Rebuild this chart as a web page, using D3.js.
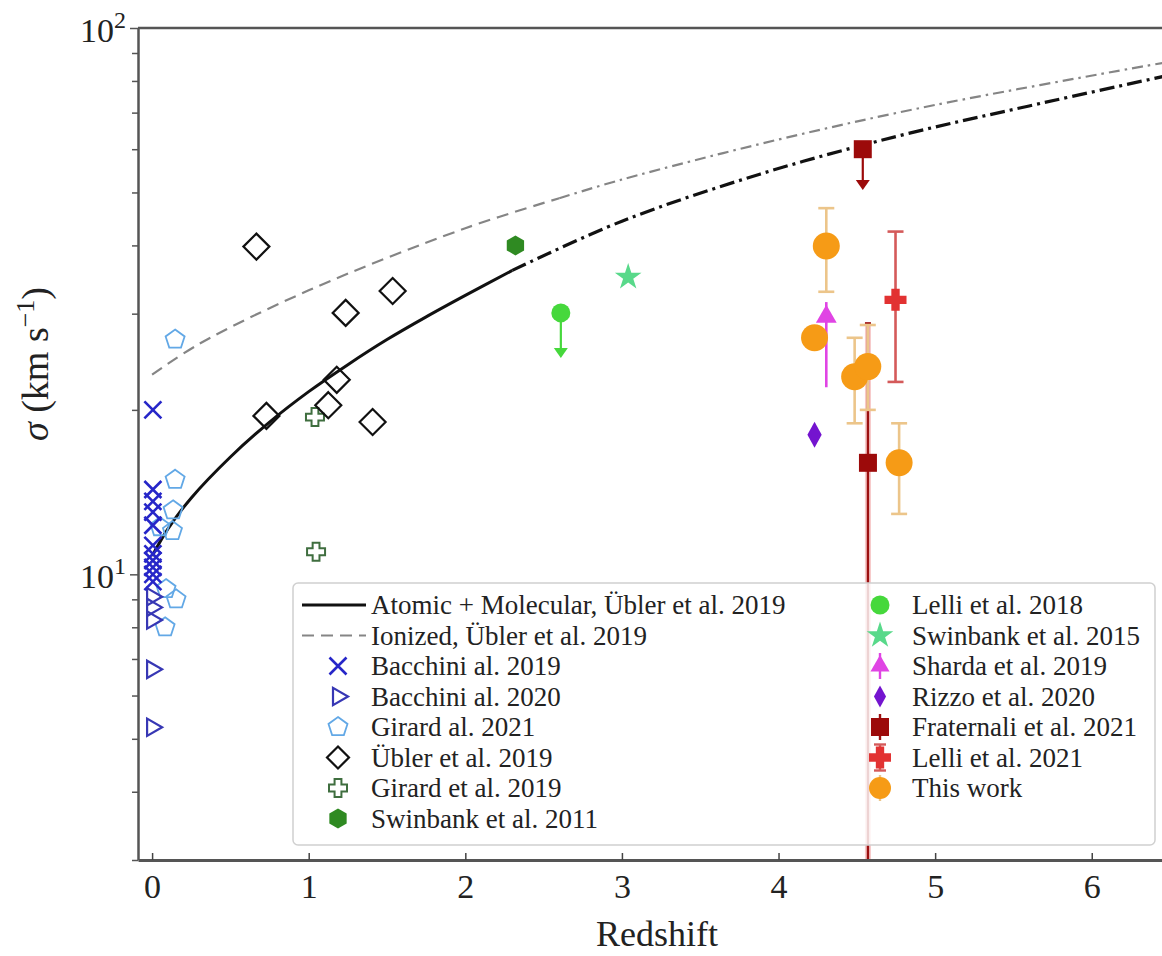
<!DOCTYPE html>
<html>
<head>
<meta charset="utf-8">
<script src="https://cdnjs.cloudflare.com/ajax/libs/d3/7.8.5/d3.min.js"></script>
<style>
  body { margin: 0; background: #fff; }
  text { font-family: "Liberation Serif", "DejaVu Serif", serif; fill: #222; }
</style>
</head>
<body>
<div id="chart"></div>
<script>
// ---- data ----
// Übler et al. 2019 relations
var molZ = [0, 0.1, 0.25, 0.5, 0.75, 1.0, 1.25, 1.5, 1.75, 2.0, 2.3];
var molSigma = [10.8, 12.1, 13.8, 16.4, 19.0, 21.6, 24.2, 26.9, 29.6, 32.4, 36.0];
var molExtZ = [2.3, 3.0, 3.88, 4.77, 5.6, 6.54];
var molExtSigma = [36.0, 44.3, 54.0, 63.5, 72.0, 82.5];
var ionZ = [0, 0.3, 1, 2, 2.6];
var ionSigma = [23.2, 26.4, 33.1, 43.0, 48.8];
var ionExtZ = [2.6, 3, 4, 5, 6.54];
var ionExtSigma = [48.8, 52.8, 62.5, 72.3, 87.2];

var bacchini19Z = [0.005, 0.005, 0.005, 0.005, 0.005, 0.005, 0.005, 0.005, 0.005, 0.005, 0.005];
var bacchini19S = [20.0, 14.3, 13.6, 13.0, 12.3, 11.3, 10.9, 10.6, 10.3, 10.0, 9.7];
var bacchini20Z = [0.0, 0.0, 0.0, 0.0, 0.0];
var bacchini20S = [9.1, 8.7, 8.25, 6.7, 5.25];
var girard21Z = [0.147, 0.147, 0.134, 0.13, 0.05, 0.089, 0.153, 0.083];
var girard21S = [26.9, 14.9, 13.1, 12.0, 12.2, 9.4, 9.0, 8.0];
var ubler19Z = [0.666, 0.73, 1.125, 1.179, 1.236, 1.408, 1.536];
var ubler19S = [39.8, 19.5, 20.4, 22.7, 30.1, 19.0, 33.0];
var girard19Z = [1.047, 1.04];
var girard19S = [11.0, 19.4];
var swinbank11Z = [2.32];
var swinbank11S = [40.0];
var lelli18Z = [2.61];
var lelli18S = [30.1];
var lelli18Limit = [24.9];
var swinbank15Z = [3.04];
var swinbank15S = [35.0];
var sharda19Z = [4.305];
var sharda19S = [29.6];
var sharda19Lo = [22.0];
var sharda19Hi = [31.5];
var rizzo20Z = [4.23];
var rizzo20S = [18.0];
var fraternaliZ = [4.538, 4.571];
var fraternaliS = [60.0, 16.0];
var fraternaliLo = [null, 1.0];
var fraternaliHi = [null, 28.8];
var fraternaliLimit = [50.5, null];
var lelli21Z = [4.747];
var lelli21S = [31.8];
var lelli21Lo = [22.5];
var lelli21Hi = [42.4];
var thisWorkZ = [4.305, 4.23, 4.486, 4.57, 4.77];
var thisWorkS = [39.9, 27.1, 23.0, 24.0, 16.0];
var thisWorkLo = [32.9, 27.1, 18.9, 20.0, 12.9];
var thisWorkHi = [46.8, 27.1, 27.1, 28.6, 18.9];

var xTicks = [0, 1, 2, 3, 4, 5, 6];
var yMajor = [10, 100];
var yMinor = [3, 4, 5, 6, 7, 8, 9, 20, 30, 40, 50, 60, 70, 80, 90];

// ---- layout ----
var svgWidth = 1162, svgHeight = 956;
var margin = {top: 28, left: 138};
var width = 1038;   // axes run a little past the picture edge
var height = 832;

var svg = d3.select("#chart").append("svg")
  .attr("width", svgWidth).attr("height", svgHeight);

var x = d3.scaleLinear().domain([-0.09, 6.538]).range([0, width]);
var y = d3.scaleLog().domain([3, 100]).range([height, 0]);

var chart = svg.append("g").attr("transform", `translate(${margin.left}, ${margin.top})`);

chart.append("clipPath").attr("id", "plotclip")
  .append("rect").attr("width", width).attr("height", height);

var plot = chart.append("g").attr("clip-path", "url(#plotclip)");

// ---- marker shapes ----
function poly(n, r, rot) {
  var pts = d3.range(n).map(function(i) {
    var a = rot + i * 2 * Math.PI / n;
    return [r * Math.sin(a), -r * Math.cos(a)];
  });
  return "M" + pts.join("L") + "Z";
}
function shapePath(shape, r) {
  switch (shape) {
    case "x": return `M${-r},${-r}L${r},${r}M${-r},${r}L${r},${-r}`;
    case "triR": return poly(3, r, Math.PI / 2);
    case "triU": return poly(3, r, 0);
    case "pent": return poly(5, r, 0);
    case "hex": return poly(6, r, 0);
    case "diamond": return poly(4, r, 0);
    case "square": return `M${-r},${-r}H${r}V${r}H${-r}Z`;
    case "thinDiamond": return `M0,${-r}L${r * 0.55},0L0,${r}L${-r * 0.55},0Z`;
    case "circle": return d3.symbol(d3.symbolCircle, Math.PI * r * r)();
    case "star": return d3.symbol(d3.symbolStar, r * r * 2.2)();
    case "plusO":
    case "plusF":
      var t = r * 0.38;
      return `M${-t},${-r}H${t}V${-t}H${r}V${t}H${t}V${r}H${-t}V${t}H${-r}V${-t}H${-t}Z`;
  }
}

var styles = {
  bacchini19: {shape: "x", r: 8.5, stroke: "#2626c8", fill: "none", sw: 2.6},
  bacchini20: {shape: "triR", r: 10, stroke: "#3737b4", fill: "none", sw: 2.2},
  girard21: {shape: "pent", r: 10, stroke: "#62a8e6", fill: "none", sw: 1.8},
  ubler19: {shape: "diamond", r: 13, stroke: "#111", fill: "none", sw: 2.2},
  girard19: {shape: "plusO", r: 9, stroke: "#3f6e3f", fill: "none", sw: 2},
  swinbank11: {shape: "hex", r: 10, stroke: "none", fill: "#2f8a22", sw: 0},
  lelli18: {shape: "circle", r: 9.5, stroke: "none", fill: "#46d83c", sw: 0},
  swinbank15: {shape: "star", r: 10, stroke: "none", fill: "#58d98a", sw: 0},
  sharda19: {shape: "triU", r: 12, stroke: "none", fill: "#e044e4", sw: 0},
  rizzo20: {shape: "thinDiamond", r: 13, stroke: "none", fill: "#7414cf", sw: 0},
  fraternali: {shape: "square", r: 9, stroke: "none", fill: "#9c0a0a", sw: 0},
  lelli21: {shape: "plusF", r: 11, stroke: "none", fill: "#e23232", sw: 0},
  thisWork: {shape: "circle", r: 13.5, stroke: "none", fill: "#f69b16", sw: 0}
};

function drawMarkers(g, zs, ss, st) {
  g.selectAll(null).data(d3.zip(zs, ss)).enter().append("path")
    .attr("transform", d => `translate(${x(d[0])},${y(d[1])})`)
    .attr("d", shapePath(st.shape, st.r))
    .attr("fill", st.fill)
    .attr("stroke", st.stroke)
    .attr("stroke-width", st.sw)
    .attr("stroke-linejoin", "miter");
}

// ---- model curves ----
var line = d3.line().x(d => x(d[0])).y(d => y(d[1])).curve(d3.curveCatmullRom);

plot.append("path").datum(d3.zip(ionZ, ionSigma)).attr("d", line)
  .attr("fill", "none").attr("stroke", "#858585").attr("stroke-width", 2.2)
  .attr("stroke-dasharray", "12,7");
plot.append("path").datum(d3.zip(ionExtZ, ionExtSigma)).attr("d", line)
  .attr("fill", "none").attr("stroke", "#858585").attr("stroke-width", 2.2)
  .attr("stroke-dasharray", "11,5,2.5,5");
plot.append("path").datum(d3.zip(molZ, molSigma)).attr("d", line)
  .attr("fill", "none").attr("stroke", "#111").attr("stroke-width", 3);
plot.append("path").datum(d3.zip(molExtZ, molExtSigma)).attr("d", line)
  .attr("fill", "none").attr("stroke", "#111").attr("stroke-width", 3.2)
  .attr("stroke-dasharray", "15,5,3,5");

// ---- error bars and limits ----
function errBars(zs, lo, hi, color, w, cap) {
  zs.forEach(function(z, i) {
    if (lo[i] == null || lo[i] === hi[i]) return;
    plot.append("line").attr("x1", x(z)).attr("x2", x(z))
      .attr("y1", y(lo[i])).attr("y2", y(hi[i]))
      .attr("stroke", color).attr("stroke-width", w);
    if (cap > 0) {
      [lo[i], hi[i]].forEach(function(v) {
        plot.append("line").attr("x1", x(z) - cap).attr("x2", x(z) + cap)
          .attr("y1", y(v)).attr("y2", y(v))
          .attr("stroke", color).attr("stroke-width", w);
      });
    }
  });
}
function limitArrows(zs, ss, to, color) {
  zs.forEach(function(z, i) {
    if (to[i] == null) return;
    var x0 = x(z), y0 = y(ss[i]), y1 = y(to[i]);
    plot.append("line").attr("x1", x0).attr("x2", x0).attr("y1", y0).attr("y2", y1 - 8)
      .attr("stroke", color).attr("stroke-width", 2.2);
    plot.append("path").attr("d", `M${x0 - 7},${y1 - 10}L${x0 + 7},${y1 - 10}L${x0},${y1}Z`)
      .attr("fill", color);
  });
}

// Fraternali lower bar runs off the bottom of the axes
fraternaliZ.forEach(function(z, i) {
  if (fraternaliLo[i] == null) return;
  plot.append("line").attr("x1", x(z)).attr("x2", x(z))
    .attr("y1", y(fraternaliLo[i])).attr("y2", y(fraternaliHi[i]))
    .attr("stroke", "#f2a6a6").attr("stroke-width", 6).attr("opacity", 0.6);
});
errBars(fraternaliZ, fraternaliLo, fraternaliHi, "#9c1010", 2.4, 3);
errBars(sharda19Z, sharda19Lo, sharda19Hi, "#e044e4", 2.6, 0);
errBars(lelli21Z, lelli21Lo, lelli21Hi, "#d45a5a", 2.6, 8);
errBars(thisWorkZ, thisWorkLo, thisWorkHi, "#ecc58a", 2.6, 8);
limitArrows(lelli18Z, lelli18S, lelli18Limit, "#46d83c");
limitArrows(fraternaliZ, fraternaliS, fraternaliLimit, "#9c0a0a");

// ---- points ----
var pts = plot.append("g");
drawMarkers(pts, girard21Z, girard21S, styles.girard21);
drawMarkers(pts, bacchini20Z, bacchini20S, styles.bacchini20);
drawMarkers(pts, bacchini19Z, bacchini19S, styles.bacchini19);
drawMarkers(pts, girard19Z, girard19S, styles.girard19);
drawMarkers(pts, ubler19Z, ubler19S, styles.ubler19);
drawMarkers(pts, swinbank11Z, swinbank11S, styles.swinbank11);
drawMarkers(pts, lelli18Z, lelli18S, styles.lelli18);
drawMarkers(pts, swinbank15Z, swinbank15S, styles.swinbank15);
drawMarkers(pts, sharda19Z, sharda19S, styles.sharda19);
drawMarkers(pts, rizzo20Z, rizzo20S, styles.rizzo20);
drawMarkers(pts, fraternaliZ, fraternaliS, styles.fraternali);
drawMarkers(pts, lelli21Z, lelli21S, styles.lelli21);
drawMarkers(pts, thisWorkZ, thisWorkS, styles.thisWork);

// ---- axes ----
var xAxis = d3.axisBottom(x).tickValues(xTicks).tickFormat(d3.format("d"))
  .tickSizeInner(-7).tickSizeOuter(0).tickPadding(14);
var gx = chart.append("g").attr("transform", `translate(0, ${height})`).call(xAxis);
gx.select(".domain").attr("stroke", "#555").attr("stroke-width", 3);
gx.selectAll(".tick line").attr("stroke", "#444").attr("stroke-width", 1.5);
gx.selectAll(".tick text").attr("font-size", 34).attr("font-family", "Liberation Serif").attr("fill", "#222");

var yAxisMinor = d3.axisLeft(y).tickValues(yMinor).tickFormat("").tickSizeInner(6).tickSizeOuter(0);
var gyMinor = chart.append("g").call(yAxisMinor);
gyMinor.select(".domain").remove();
gyMinor.selectAll(".tick line").attr("stroke", "#555").attr("stroke-width", 1.5);

var yAxis = d3.axisLeft(y).tickValues(yMajor).tickFormat("").tickSizeInner(8).tickSizeOuter(0);
var gy = chart.append("g").call(yAxis);
gy.select(".domain").attr("stroke", "#555").attr("stroke-width", 2.5);
gy.selectAll(".tick line").attr("stroke", "#555").attr("stroke-width", 1.5);
gy.selectAll(".tick").each(function(d) {
  var t = d3.select(this).append("text")
    .attr("x", -12).attr("y", 13).attr("text-anchor", "end")
    .attr("font-size", 34).attr("font-family", "Liberation Serif").attr("fill", "#222");
  t.append("tspan").text("10");
  t.append("tspan").attr("dy", -14).attr("font-size", 24).text(Math.round(Math.log10(d)));
});

// top spine
chart.append("line").attr("x1", 0).attr("x2", width).attr("y1", 0).attr("y2", 0)
  .attr("stroke", "#555").attr("stroke-width", 2.5);

// axis labels
chart.append("text")
  .attr("x", width / 2).attr("y", height + 86)
  .attr("text-anchor", "middle").attr("font-size", 36)
  .text("Redshift");

var yl = svg.append("text")
  .attr("transform", `translate(48, ${margin.top + height / 2 - 80}) rotate(-90)`)
  .attr("text-anchor", "middle").attr("font-size", 38);
yl.append("tspan").attr("font-style", "italic").text("σ");
yl.append("tspan").text(" (km s");
yl.append("tspan").attr("dy", -14).attr("font-size", 26).text("−1");
yl.append("tspan").attr("dy", 14).text(")");

// ---- legend ----
var legendLeft = [
  {label: "Atomic + Molecular, Übler et al. 2019", kind: "solid"},
  {label: "Ionized, Übler et al. 2019", kind: "dashed"},
  {label: "Bacchini al. 2019", st: styles.bacchini19},
  {label: "Bacchini al. 2020", st: styles.bacchini20},
  {label: "Girard al. 2021", st: styles.girard21},
  {label: "Übler et al. 2019", st: styles.ubler19},
  {label: "Girard et al. 2019", st: styles.girard19},
  {label: "Swinbank et al. 2011", st: styles.swinbank11}
];
var legendRight = [
  {label: "Lelli et al. 2018", st: styles.lelli18},
  {label: "Swinbank et al. 2015", st: styles.swinbank15},
  {label: "Sharda et al. 2019", st: styles.sharda19, bar: "#e044e4"},
  {label: "Rizzo et al. 2020", st: styles.rizzo20},
  {label: "Fraternali et al. 2021", st: styles.fraternali, bar: "#9c1010"},
  {label: "Lelli et al. 2021", st: styles.lelli21, bar: "#d45a5a", cap: true},
  {label: "This work", st: styles.thisWork, bar: "#ecc58a"}
];

var legend = svg.append("g");
legend.append("rect")
  .attr("x", 293).attr("y", 583).attr("width", 862).attr("height", 262).attr("rx", 5)
  .attr("fill", "#fff").attr("fill-opacity", 0.82).attr("stroke", "#d0d0d0").attr("stroke-width", 1.5);

function legendColumn(items, mx, tx) {
  items.forEach(function(it, i) {
    var cy = 605 + i * 30.5;
    var g = legend.append("g");
    if (it.kind === "solid") {
      g.append("line").attr("x1", mx - 36).attr("x2", mx + 28).attr("y1", cy).attr("y2", cy)
        .attr("stroke", "#111").attr("stroke-width", 3);
    } else if (it.kind === "dashed") {
      g.append("line").attr("x1", mx - 36).attr("x2", mx + 28).attr("y1", cy).attr("y2", cy)
        .attr("stroke", "#858585").attr("stroke-width", 2.2).attr("stroke-dasharray", "12,7");
    } else {
      if (it.bar) {
        g.append("line").attr("x1", mx).attr("x2", mx).attr("y1", cy - 13).attr("y2", cy + 13)
          .attr("stroke", it.bar).attr("stroke-width", 2.4);
        if (it.cap) {
          [cy - 13, cy + 13].forEach(function(v) {
            g.append("line").attr("x1", mx - 6).attr("x2", mx + 6).attr("y1", v).attr("y2", v)
              .attr("stroke", it.bar).attr("stroke-width", 2.4);
          });
        }
      }
      var r = Math.min(it.st.r, 11);
      g.append("path").attr("transform", `translate(${mx},${cy})`)
        .attr("d", shapePath(it.st.shape, it.st.shape === "diamond" ? 11 : r))
        .attr("fill", it.st.fill).attr("stroke", it.st.stroke).attr("stroke-width", it.st.sw);
    }
    g.append("text").attr("x", tx).attr("y", cy).attr("dy", "0.35em")
      .attr("font-size", 27).text(it.label);
  });
}
legendColumn(legendLeft, 338, 371);
legendColumn(legendRight, 880, 912);
</script>
</body>
</html>
